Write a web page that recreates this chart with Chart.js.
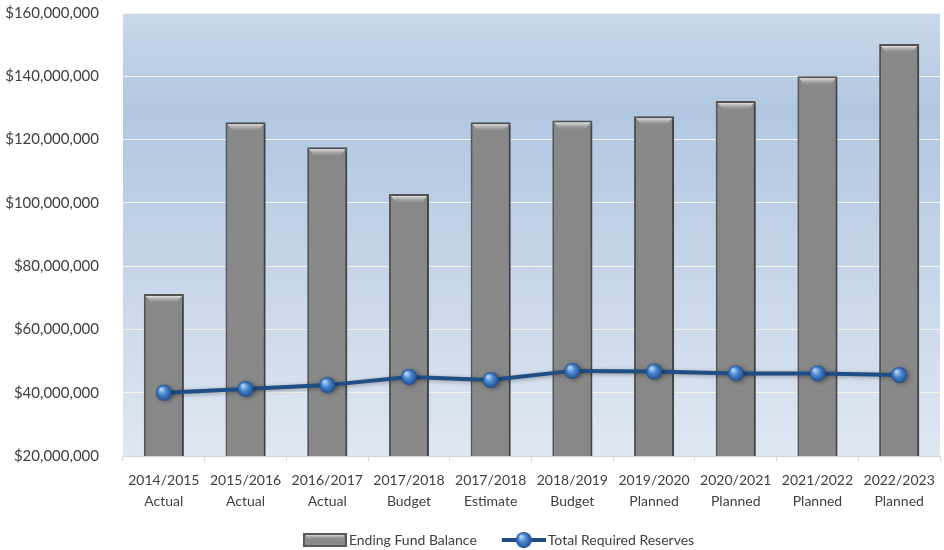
<!DOCTYPE html>
<html>
<head>
<meta charset="utf-8">
<script src="https://cdn.jsdelivr.net/npm/chart.js@4/dist/chart.umd.min.js"></script>
<style>
  html, body { margin: 0; padding: 0; background: #fff; overflow: hidden; }
  #wrap { width: 944px; height: 550px; position: relative; }
  #wrap canvas { display: block; }
</style>
</head>
<body>
<div id="wrap"><canvas id="fund"></canvas></div>
<script>
const years = ['2014/2015', '2015/2016', '2016/2017', '2017/2018', '2017/2018',
  '2018/2019', '2019/2020', '2020/2021', '2021/2022', '2022/2023']
const kinds = ['Actual', 'Actual', 'Actual', 'Budget', 'Estimate',
  'Budget', 'Planned', 'Planned', 'Planned', 'Planned']
const endingFundBalance = [71200000, 125500000, 117600000, 102800000, 125500000,
  126000000, 127400000, 132200000, 140000000, 150200000]
const totalRequiredReserves = [40000000, 41200000, 42400000, 45000000, 44000000,
  46900000, 46700000, 46100000, 46100000, 45600000]
const yTicks = { min: 20000000, max: 160000000, step: 20000000 }

const FONT = 'Lato, "Liberation Sans", sans-serif'
const TEXT = '#404040'
const LINE_BLUE = '#1f4e84'

// little glossy ball used for the line markers
function makeSphere (r) {
  const c = document.createElement('canvas')
  c.width = c.height = r * 2 + 2
  const g = c.getContext('2d')
  const cx = r + 1
  const grad = g.createRadialGradient(cx - r * 0.35, cx - r * 0.45, r * 0.1, cx, cx, r)
  grad.addColorStop(0, '#b7d4f6')
  grad.addColorStop(0.45, '#4a88d2')
  grad.addColorStop(1, '#1d4f8e')
  g.fillStyle = grad
  g.beginPath()
  g.arc(cx, cx, r, 0, Math.PI * 2)
  g.fill()
  return c
}
const sphere = makeSphere(8)

// legend icons: the drawing sits at the right end so the text follows closely
const ICON_W = 54
const ICON_PAD = 10

function barIcon () {
  const c = document.createElement('canvas')
  c.width = ICON_W
  c.height = 14
  const g = c.getContext('2d')
  g.translate(ICON_PAD, 0)
  g.fillStyle = '#5a5a5a'
  g.fillRect(0, 0, 44, 14)
  g.fillStyle = '#8a8a8a'
  g.fillRect(2, 2, 40, 10)
  const hl = g.createLinearGradient(0, 2, 0, 7)
  hl.addColorStop(0, '#d8d8d8')
  hl.addColorStop(1, 'rgba(138,138,138,0)')
  g.fillStyle = hl
  g.fillRect(3, 2, 38, 5)
  return c
}

function lineIcon () {
  const c = document.createElement('canvas')
  c.width = ICON_W
  c.height = 18
  const g = c.getContext('2d')
  g.translate(ICON_PAD, 0)
  g.strokeStyle = LINE_BLUE
  g.lineWidth = 4
  g.beginPath()
  g.moveTo(0, 9)
  g.lineTo(44, 9)
  g.stroke()
  g.drawImage(sphere, 22 - sphere.width / 2, 9 - sphere.height / 2)
  return c
}

const plotBackground = {
  id: 'plotBackground',
  beforeDraw (chart) {
    const { ctx, chartArea: a } = chart
    const grad = ctx.createLinearGradient(0, a.top, 0, a.bottom)
    grad.addColorStop(0, '#c9d8ea')
    grad.addColorStop(0.22, '#b1c7e1')
    grad.addColorStop(0.6, '#c7d6e9')
    grad.addColorStop(1, '#dfe7f2')
    ctx.save()
    ctx.fillStyle = grad
    ctx.fillRect(a.left, a.top, a.right - a.left, a.bottom - a.top)
    ctx.restore()
  }
}

// drop shadow under the series and a bevel along each bar's top
const barFinish = {
  id: 'barFinish',
  beforeDatasetDraw (chart, args) {
    const ctx = chart.ctx
    ctx.save()
    ctx.shadowColor = 'rgba(0,0,0,0.35)'
    ctx.shadowBlur = 4
    ctx.shadowOffsetX = 2
    ctx.shadowOffsetY = 1
  },
  afterDatasetDraw (chart, args) {
    const ctx = chart.ctx
    ctx.restore()
    if (args.index !== 0) return
    ctx.save()
    args.meta.data.forEach(bar => {
      const l = bar.x - bar.width / 2 + 2
      const r = bar.x + bar.width / 2 - 2
      const t = bar.y + 2
      const grad = ctx.createLinearGradient(0, t, 0, t + 8)
      grad.addColorStop(0, '#e4e4e4')
      grad.addColorStop(1, 'rgba(136,136,136,0)')
      ctx.fillStyle = grad
      ctx.beginPath()
      ctx.moveTo(l, t)
      ctx.lineTo(r, t)
      ctx.lineTo(r - 6, t + 8)
      ctx.lineTo(l + 6, t + 8)
      ctx.closePath()
      ctx.fill()
    })
    ctx.restore()
  }
}

// legend sits a bit right of the canvas centre
const legendShift = {
  id: 'legendShift',
  afterLayout (chart) {
    chart.legend.left += 26
    chart.legend.right += 26
  }
}

const legendIcons = [barIcon(), lineIcon()]

new Chart(document.getElementById('fund'), {
  type: 'bar',
  data: {
    labels: years.map((y, i) => [y, kinds[i]]),
    datasets: [
      {
        label: 'Ending Fund Balance',
        data: endingFundBalance,
        order: 2,
        backgroundColor: '#888888',
        borderColor: '#575757',
        borderWidth: 2,
        barPercentage: 0.49,
        categoryPercentage: 1
      },
      {
        type: 'line',
        label: 'Total Required Reserves',
        data: totalRequiredReserves,
        order: 1,
        borderColor: LINE_BLUE,
        borderWidth: 4,
        pointStyle: sphere,
        pointRadius: 8,
        pointHoverRadius: 8,
        tension: 0
      }
    ]
  },
  options: {
    responsive: true,
    maintainAspectRatio: false,
    animation: false,
    layout: {
      autoPadding: false,
      padding: { top: 13, right: 4, left: 0, bottom: -7 }
    },
    plugins: {
      tooltip: { enabled: false },
      legend: {
        position: 'bottom',
        labels: {
          usePointStyle: true,
          pointStyleWidth: 44,
          color: TEXT,
          padding: 20,
          font: { family: FONT, size: 14 },
          generateLabels (chart) {
            return chart.data.datasets.map((ds, i) => ({
              text: ds.label,
              pointStyle: legendIcons[i],
              fontColor: TEXT,
              lineWidth: 0,
              strokeStyle: 'transparent',
              fillStyle: 'transparent',
              datasetIndex: i
            }))
          }
        }
      }
    },
    scales: {
      x: {
        grid: {
          display: true,
          drawOnChartArea: false,
          offset: true,
          tickLength: 5,
          color: '#d4d4d4'
        },
        border: { display: true, color: '#d4d4d4', width: 1 },
        ticks: {
          color: TEXT,
          font: { family: FONT, size: 14, lineHeight: 1.5 },
          maxRotation: 0,
          autoSkip: false,
          padding: 9
        },
        afterFit (scale) {
          scale.height = 57
          scale.paddingLeft = 0
          scale.paddingRight = 0
        }
      },
      y: {
        min: yTicks.min,
        max: yTicks.max,
        grid: {
          color: 'rgba(250,246,228,0.9)',
          lineWidth: 1,
          drawTicks: false
        },
        border: { display: false },
        ticks: {
          stepSize: yTicks.step,
          color: TEXT,
          padding: 24,
          font: { family: FONT, size: 15 },
          callback: v => '$' + v.toLocaleString('en-US')
        },
        afterFit (scale) {
          scale.width = 123
          scale.paddingTop = 0
          scale.paddingBottom = 0
        }
      }
    }
  },
  plugins: [plotBackground, barFinish, legendShift]
})
</script>
</body>
</html>
